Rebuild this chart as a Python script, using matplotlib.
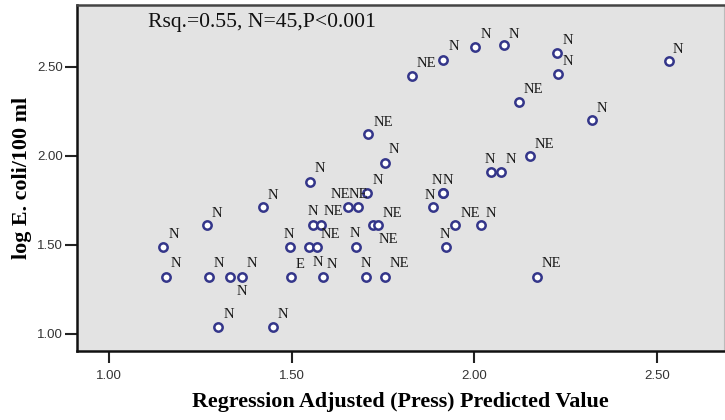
import matplotlib
matplotlib.use("Agg")
import matplotlib.pyplot as plt

# predicted value (x) vs observed log E. coli (y), with site direction labels
pred = [1.148, 1.155, 1.268, 1.274, 1.330, 1.364, 1.299, 1.422, 1.448, 1.496,
        1.497, 1.550, 1.559, 1.579, 1.548, 1.570, 1.585, 1.653, 1.681, 1.676,
        1.703, 1.707, 1.710, 1.722, 1.737, 1.755, 1.755, 1.828, 1.886, 1.915,
        1.915, 1.922, 1.915, 1.947, 2.018, 2.003, 2.045, 2.073, 2.082, 2.122,
        2.152, 2.172, 2.227, 2.229, 2.323, 2.532]
log_ecoli = [1.49, 1.32, 1.61, 1.32, 1.32, 1.32, 1.04, 1.71, 1.04, 1.49,
             1.32, 1.85, 1.61, 1.61, 1.49, 1.49, 1.32, 1.71, 1.71, 1.49,
             1.32, 1.79, 2.12, 1.61, 1.61, 1.96, 1.32, 2.45, 1.71, 1.79,
             1.79, 1.49, 2.54, 1.61, 1.61, 2.61, 1.91, 1.91, 2.62, 2.30,
             2.00, 1.32, 2.58, 2.46, 2.20, 2.53]
direction = ["N", "N", "N", "N", "N", "N", "N", "N", "N", "N",
             "E", "N", "N", "NE", "N", "NE", "N", "NE", "NE", "N",
             "N", "N", "NE", "NE", "NE", "N", "NE", "NE", "N", "N",
             "N", "N", "N", "NE", "N", "N", "N", "N", "N", "NE",
             "NE", "NE", "N", "N", "N", "N"]

x_ticks = [1.00, 1.50, 2.00, 2.50]
y_ticks = [1.00, 1.50, 2.00, 2.50]
stat_text = "Rsq.=0.55, N=45,P<0.001"

# label placement (pixel offsets of label centre from the point), as in the SPSS output
label_off = [(10.7, 13), (10.3, 14.7), (9.7, 13.3), (10, 14.7), (12.3, -13), (9.3, 14.7),
             (10.3, 13.7), (10, 13.3), (10, 13.7), (-1.3, 13), (9.3, 13.7), (10, 15),
             (0, 15), (12.7, 15), (9, -15), (13.3, 13.3), (9, 13.7), (-7.7, 14),
             (0.6, 14), (-1, 14), (0, 14.3), (10.4, 14), (14.4, 12.7), (15.7, -12.7),
             (14, 13.3), (9.3, 14.3), (14.3, 14.7), (15, 13.3), (-2.7, 13.3), (-6, 14),
             (5, 14), (-0.7, 13.6), (10.7, 14.7), (15, 13.3), (10, 13.3), (10.4, 14.4),
             (-0.7, 14), (10, 14), (10, 12.6), (14.3, 14), (14.6, 12.7), (14.7, 14.7),
             (10.3, 13.3), (10.3, 14), (10, 13), (9.4, 13.7)]

serif = ["Liberation Serif", "DejaVu Serif"]

fig = plt.figure(figsize=(7.25, 4.2), dpi=100)
ax = fig.add_axes([0.1062, 0.1643, 0.8924, 0.8238])
ax.set_facecolor("#e3e3e3")

ax.plot(pred, log_ecoli, linestyle="none", marker="o", ms=6.0, mew=1.8,
        mfc="white", mec="#34368a", zorder=3)

for xv, yv, lab, (dx, dy) in zip(pred, log_ecoli, direction, label_off):
    ax.annotate(lab, (xv, yv), xytext=(dx, dy - 4.8), textcoords="offset pixels",
                ha="center", va="baseline", fontsize=10.5, family=serif,
                color="#1a1a1a", zorder=4)

ax.text(0.1097, 0.948, stat_text, transform=ax.transAxes, ha="left", va="center",
        fontsize=15.6, family=serif, color="#111111")

ax.set_xlim(0.9115, 2.684)
ax.set_ylim(0.903, 2.847)
ax.set_xticks(x_ticks)
ax.set_yticks(y_ticks)
ax.set_xticklabels([f"{t:.2f}" for t in x_ticks])
ax.set_yticklabels([f"{t:.2f}" for t in y_ticks])
ax.tick_params(axis="both", direction="out", length=8.5, width=1.5, color="#222222",
               labelsize=9.5, labelcolor="#333333")
ax.tick_params(axis="x", pad=5.5)
ax.tick_params(axis="y", pad=1.5)
for t in ax.get_xticklabels() + ax.get_yticklabels():
    t.set_family(["Liberation Sans", "DejaVu Sans"])

for side in ["left", "bottom"]:
    ax.spines[side].set_linewidth(1.8)
    ax.spines[side].set_color("#111111")
ax.spines["top"].set_linewidth(1.8)
ax.spines["top"].set_color("#444444")
ax.spines["right"].set_linewidth(0.8)
ax.spines["right"].set_color("#bbbbbb")

ax.set_xlabel("Regression Adjusted (Press) Predicted Value", fontsize=15.8,
              fontweight="bold", family=serif, labelpad=7)
ax.set_ylabel("log E. coli/100 ml", fontsize=15.8, fontweight="bold",
              family=serif, labelpad=4)

fig.savefig("out.png", dpi=100)
